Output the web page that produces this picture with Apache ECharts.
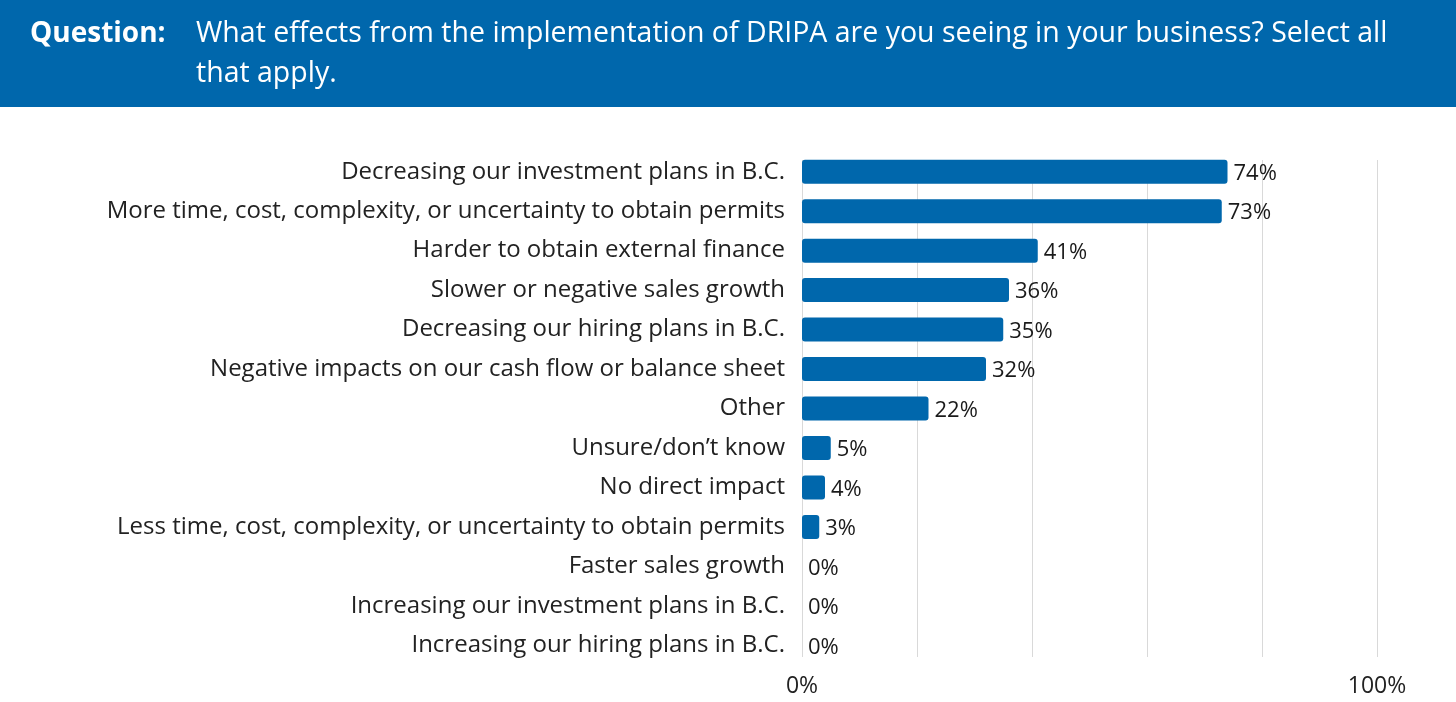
<!DOCTYPE html>
<html>
<head>
<meta charset="utf-8">
<script src="https://cdn.jsdelivr.net/npm/echarts@6/dist/echarts.min.js"></script>
<style>
  html, body { margin: 0; padding: 0; background: #fff; }
  #chart { width: 1456px; height: 702px; }
</style>
</head>
<body>
<div id="chart"></div>
<script>
  // categories, top to bottom as shown
  var categories = [
    'Decreasing our investment plans in B.C.',
    'More time, cost, complexity, or uncertainty to obtain permits',
    'Harder to obtain external finance',
    'Slower or negative sales growth',
    'Decreasing our hiring plans in B.C.',
    'Negative impacts on our cash flow or balance sheet',
    'Other',
    'Unsure/don\u2019t know',
    'No direct impact',
    'Less time, cost, complexity, or uncertainty to obtain permits',
    'Faster sales growth',
    'Increasing our investment plans in B.C.',
    'Increasing our hiring plans in B.C.'
  ]
  var values = [74, 73, 41, 36, 35, 32, 22, 5, 4, 3, 0, 0, 0]
  var axisTicks = [0, 100]

  var question = 'What effects from the implementation of DRIPA are you seeing in your business? Select all\nthat apply.'
  var blue = '#0067AC'
  var font = '"Open Sans", "Noto Sans", sans-serif'

  var chart = echarts.init(document.getElementById('chart'))
  chart.setOption({
    animation: false,
    textStyle: { fontFamily: font },
    graphic: [
      {
        type: 'rect',
        left: 0, top: 0,
        shape: { width: 1456, height: 107 },
        style: { fill: blue }
      },
      {
        type: 'text',
        left: 30, top: 14,
        style: { text: 'Question:', fill: '#fff', font: 'bold 28px ' + font, lineHeight: 40 }
      },
      {
        type: 'text',
        left: 196, top: 14,
        style: { text: question, fill: '#fff', font: '28.5px ' + font, lineHeight: 40 }
      }
    ],
    // grid 0 holds the bars, grid 1 only draws the gridlines and the 0% / 100% labels
    grid: [
      { left: 802, right: 79, top: 152, bottom: 37 },
      { left: 802, right: 79, top: 160, bottom: 45 }
    ],
    xAxis: [
      {
        type: 'value', gridIndex: 0,
        min: 0, max: 100, interval: 20,
        axisLine: { show: false },
        axisTick: { show: false },
        splitLine: { show: false },
        axisLabel: { show: false }
      },
      {
        type: 'value', gridIndex: 1,
        min: 0, max: 100, interval: 20,
        axisLine: { show: false },
        axisTick: { show: false },
        splitLine: { lineStyle: { color: '#d9d9d9', width: 1 } },
        axisLabel: {
          color: '#222',
          fontSize: 23,
          margin: 18,
          formatter: function (v) {
            return axisTicks.indexOf(v) >= 0 ? v + '%' : ''
          }
        }
      }
    ],
    yAxis: [
      {
        type: 'category', gridIndex: 0,
        inverse: true,
        data: categories,
        axisLine: { show: false },
        axisTick: { show: false },
        axisLabel: { color: '#222', fontSize: 24, margin: 17 }
      },
      {
        type: 'category', gridIndex: 1,
        data: categories,
        show: false
      }
    ],
    series: [{
      type: 'bar',
      xAxisIndex: 0,
      yAxisIndex: 0,
      z: 3,
      data: values,
      barWidth: 24,
      itemStyle: { color: blue, borderRadius: 3 },
      label: {
        show: true,
        position: 'right',
        distance: 6,
        color: '#1a1a1a',
        fontSize: 22,
        offset: [0, 2],
        formatter: '{c}%'
      }
    }]
  })
</script>
</body>
</html>
